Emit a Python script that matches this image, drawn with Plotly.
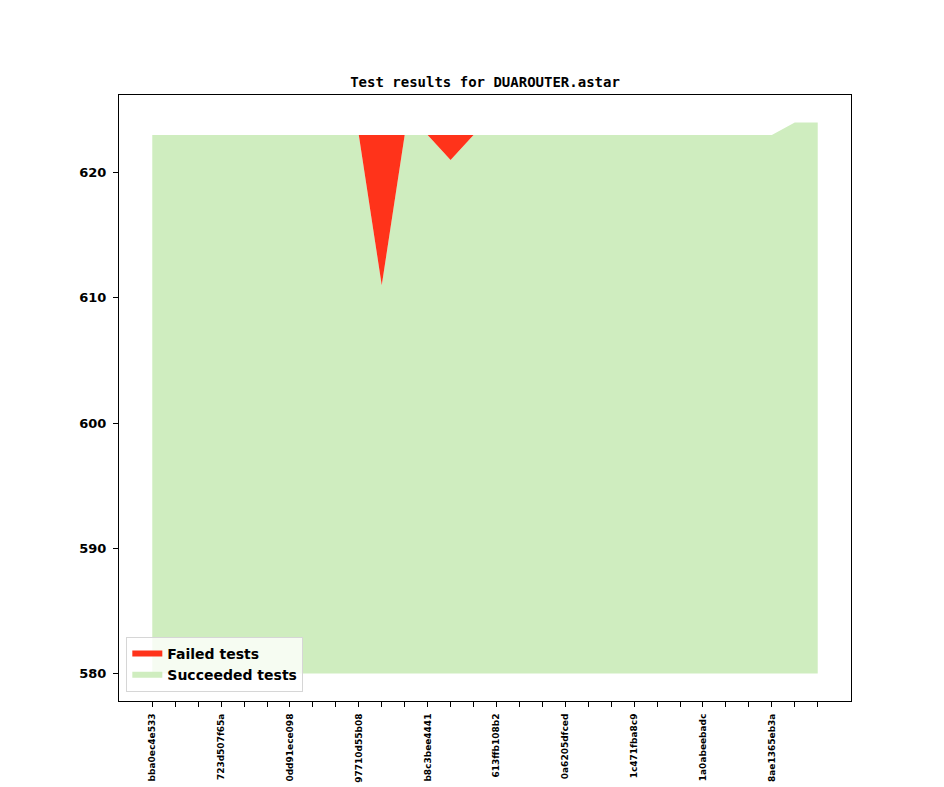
import numpy as np
import plotly.graph_objs as go

# commit hashes shown under every third tick (the visible part of the labels)
commit_labels = [
    "bba0ec4e533",
    "723d507f65a",
    "0dd91ece098",
    "97710d55b08",
    "b8c3bee4441",
    "613ffb108b2",
    "0a6205dfced",
    "1c471fba8c9",
    "1a0abeebadc",
    "8ae1365eb3a",
]
label_every = 3

succeeded = [623, 623, 623, 623, 623, 623, 623, 623, 623, 623,
             611, 623, 623, 621, 623, 623, 623, 623, 623, 623,
             623, 623, 623, 623, 623, 623, 623, 623, 624, 624]
failed = [0, 0, 0, 0, 0, 0, 0, 0, 0, 0,
          12, 0, 0, 2, 0, 0, 0, 0, 0, 0,
          0, 0, 0, 0, 0, 0, 0, 0, 0, 0]
baseline = 580

red = "#ff331a"
green = "#cfedbf"


def main():
    x = np.arange(len(succeeded))
    ok = np.array(succeeded)
    total = ok + np.array(failed)

    fig = go.Figure()
    fig.add_trace(go.Scatter(x=x, y=[baseline] * len(x), mode="lines",
                             line=dict(width=0), showlegend=False, hoverinfo="skip"))
    fig.add_trace(go.Scatter(x=x, y=ok, mode="none", name="Succeeded tests",
                             fill="tonexty", fillcolor=green, legendrank=2))
    fig.add_trace(go.Scatter(x=x, y=total, mode="none", name="Failed tests",
                             fill="tonexty", fillcolor=red, legendrank=1))

    span = len(x) - 1
    ymin, ymax = baseline, total.max()
    ypad = (ymax - ymin) * 0.05

    axis_common = dict(showline=True, linecolor="black", linewidth=1, mirror=True,
                       ticks="outside", ticklen=5, tickcolor="black",
                       showgrid=False, zeroline=False)

    fig.update_layout(
        width=944, height=787,
        # the page puts the plot ~7px in from the corner, so trim left/top
        margin=dict(l=111, r=101, t=87, b=94, autoexpand=False),
        paper_bgcolor="white", plot_bgcolor="white",
        title=dict(text="Test results for DUAROUTER.astar", x=0.5, xanchor="center",
                   xref="paper", y=1, yref="paper", yanchor="bottom", pad=dict(b=8),
                   font=dict(family="DejaVu Sans Mono", size=14, color="black",
                             weight="bold")),
        xaxis=dict(range=[-span * 0.05, span * 1.05],
                   tickvals=list(x[::label_every]), ticktext=commit_labels,
                   tickangle=-90, automargin=False, ticklabelstandoff=3,
                   tickfont=dict(family="DejaVu Sans", size=9, color="black",
                                 weight="bold"),
                   minor=dict(tickmode="array", tickvals=list(x), ticks="outside",
                              ticklen=5, tickcolor="black", showgrid=False),
                   **axis_common),
        yaxis=dict(range=[ymin - ypad, ymax + ypad], dtick=10, tick0=580,
                   automargin=False, ticklabelstandoff=4,
                   tickfont=dict(family="DejaVu Sans", size=13, color="black",
                                 weight="bold"),
                   **axis_common),
        legend=dict(x=0.01, y=0.015, xanchor="left", yanchor="bottom",
                    traceorder="normal",
                    bgcolor="rgba(255,255,255,0.8)", bordercolor="#d6d6d6",
                    borderwidth=1, tracegroupgap=0,
                    font=dict(family="DejaVu Sans", size=14, color="black",
                              weight="bold")),
        showlegend=True,
    )

    fig.write_html("out.html")


if __name__ == "__main__":
    main()
